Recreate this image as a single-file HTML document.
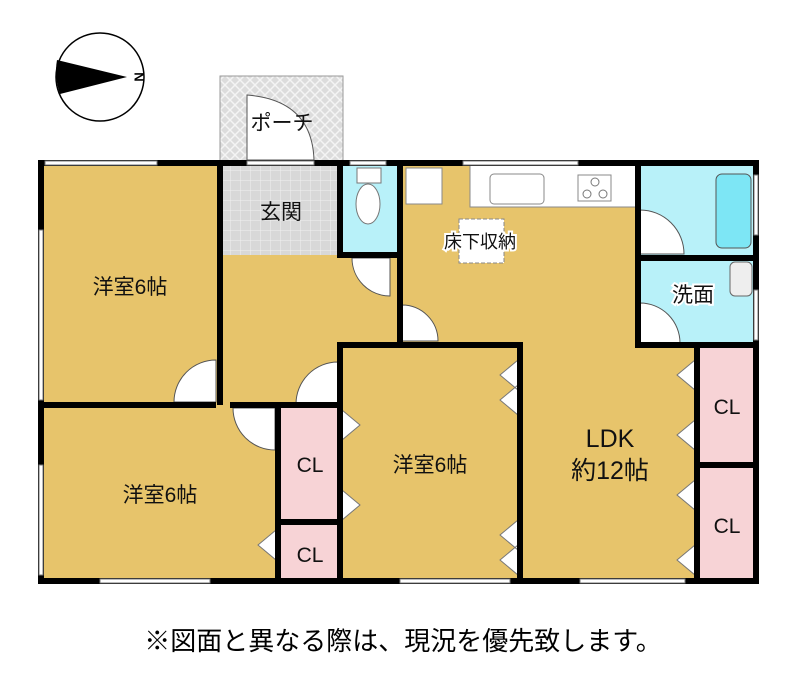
<!DOCTYPE html>
<html><head><meta charset="utf-8"><style>
body{margin:0;background:#fff;}
svg{display:block;font-family:"Liberation Sans","Noto Sans CJK JP",sans-serif;}
</style></head><body>
<svg width="800" height="687" viewBox="0 0 800 687">
<defs>
<pattern id="hatch" width="10" height="10" patternUnits="userSpaceOnUse">
<rect width="10" height="10" fill="#dcdcdc"/><path d="M0 0L10 10M10 0L0 10" stroke="#f4f4f4" stroke-width="1.5"/></pattern>
<pattern id="grid" width="10" height="10" patternUnits="userSpaceOnUse">
<rect width="10" height="10" fill="#d8d8d8"/><path d="M0 0H10M0 0V10" stroke="#f0f0f0" stroke-width="1"/></pattern>
</defs>
<circle cx="100" cy="77" r="44" fill="#fff" stroke="#000" stroke-width="1.5"/>
<path d="M57 60 L127 77 L60 94 Q54 77 57 60Z" fill="#000"/>
<text x="138" y="77" font-size="13" font-weight="bold" transform="rotate(90 138 77)" text-anchor="middle" dominant-baseline="middle">N</text>
<rect x="220" y="76" width="123" height="88" fill="url(#hatch)" stroke="#999"/>
<path d="M247 160 V95 Q312 100 314 160Z" fill="#fff" stroke="#555"/>
<rect x="40" y="163" width="717" height="417" fill="#E7C46B"/>
<rect x="222" y="165" width="118" height="90" fill="url(#grid)"/>
<rect x="340" y="165" width="60" height="90" fill="#B8F1F9"/>
<rect x="638" y="165" width="119" height="180" fill="#B8F1F9"/>
<rect x="278" y="405" width="62" height="117" fill="#F7D3D6"/>
<rect x="278" y="522" width="62" height="58" fill="#F7D3D6"/>
<rect x="697" y="345" width="60" height="120" fill="#F7D3D6"/>
<rect x="697" y="465" width="60" height="115" fill="#F7D3D6"/>
<rect x="470" y="165" width="166" height="42" fill="#fff" stroke="#888"/>
<rect x="490" y="174" width="54" height="30" rx="4" fill="#fff" stroke="#888"/>
<rect x="578" y="175" width="33" height="26" fill="#fff" stroke="#888"/>
<circle cx="595" cy="182" r="4" fill="none" stroke="#777"/><circle cx="587" cy="194" r="4" fill="none" stroke="#777"/><circle cx="603" cy="194" r="4" fill="none" stroke="#777"/>
<rect x="406" y="168" width="36" height="36" fill="#fff" stroke="#888"/>
<rect x="459" y="219" width="45" height="44" fill="#fff" stroke="#888" stroke-dasharray="4 2"/>
<rect x="357" y="168" width="24" height="15" fill="#fff" stroke="#777"/>
<ellipse cx="368" cy="204" rx="12" ry="20" fill="#fff" stroke="#777"/>
<rect x="716" y="174" width="35" height="74" rx="6" fill="#7de6f5" stroke="#555"/>
<rect x="730" y="262" width="22" height="34" rx="5" fill="#eee" stroke="#666"/>
<g fill="#fff" stroke="#555">
<path d="M640 210 A44 44 0 0 1 684 254 H640Z"/>
<path d="M640 303 A40 40 0 0 1 680 343 H640Z"/>
<path d="M390 258 V296 A38 38 0 0 1 352 258 Z"/>
<path d="M402 305 A36 36 0 0 1 438 341 H402Z"/>
<path d="M216 360 A42 42 0 0 0 174 402 H216Z"/>
<path d="M338 362 A42 42 0 0 0 296 404 H338Z"/>
<path d="M233 408 A42 42 0 0 0 275 450 V408Z"/>
</g>
<g fill="#fff" stroke="#777">
<path d="M342 410 L360 425 L342 440Z"/><path d="M342 490 L360 505 L342 520Z"/>
<path d="M276 530 L258 545 L276 560Z"/>
<path d="M518 360 L500 375 L518 390Z M518 385 L500 400 L518 415Z"/>
<path d="M518 520 L500 535 L518 550Z M518 545 L500 560 L518 575Z"/>
<path d="M695 360 L677 375 L695 390Z M695 420 L677 435 L695 450Z"/>
<path d="M695 480 L677 495 L695 510Z M695 545 L677 560 L695 575Z"/>
</g>
<g fill="#000">
<rect x="38" y="160" width="721" height="6"/>
<rect x="38" y="160" width="6" height="424"/>
<rect x="753" y="160" width="6" height="424"/>
<rect x="38" y="578" width="721" height="6"/>
<rect x="217" y="160" width="6" height="245"/>
<rect x="38" y="402" width="178" height="6"/>
<rect x="230" y="402" width="112" height="6"/>
<rect x="337" y="160" width="6" height="98"/>
<rect x="337" y="252" width="63" height="6"/>
<rect x="397" y="160" width="6" height="185"/>
<rect x="337" y="342" width="186" height="6"/>
<rect x="337" y="342" width="6" height="240"/>
<rect x="517" y="342" width="6" height="240"/>
<rect x="275" y="402" width="6" height="180"/>
<rect x="275" y="519" width="66" height="6"/>
<rect x="635" y="160" width="6" height="188"/>
<rect x="635" y="342" width="124" height="6"/>
<rect x="638" y="255" width="120" height="6"/>
<rect x="694" y="342" width="6" height="240"/>
<rect x="694" y="462" width="64" height="6"/>
</g>
<g fill="#fff" stroke="#777">
<rect x="45" y="161" width="112" height="4"/>
<rect x="247" y="161" width="67" height="4"/>
<rect x="350" y="161" width="36" height="4"/>
<rect x="463" y="161" width="115" height="4"/>
<rect x="39" y="230" width="4" height="170"/>
<rect x="39" y="465" width="4" height="110"/>
<rect x="100" y="579" width="110" height="4"/>
<rect x="400" y="579" width="110" height="4"/>
<rect x="580" y="579" width="105" height="4"/>
<rect x="754" y="175" width="4" height="60"/>
<rect x="754" y="290" width="4" height="50"/>
</g>
<g font-size="21" text-anchor="middle" fill="#111">
<text x="130" y="294">洋室6帖</text>
<text x="281" y="219">玄関</text>
<text x="282" y="130">ポーチ</text>
<text x="480" y="248" font-size="18" stroke="#fff" stroke-width="4" paint-order="stroke">床下収納</text>
<text x="693" y="302" stroke="#fff" stroke-width="4" paint-order="stroke">洗面</text>
<text x="430" y="472">洋室6帖</text>
<text x="160" y="502">洋室6帖</text>
<text x="610" y="447" font-size="25">LDK</text>
<text x="610" y="479" font-size="25">約12帖</text>
<text x="310" y="472">CL</text>
<text x="310" y="562">CL</text>
<text x="727" y="414">CL</text>
<text x="727" y="533">CL</text>
</g>
<text x="403" y="650" font-size="26" text-anchor="middle">※図面と異なる際は、現況を優先致します。</text>
</svg>
</body></html>
